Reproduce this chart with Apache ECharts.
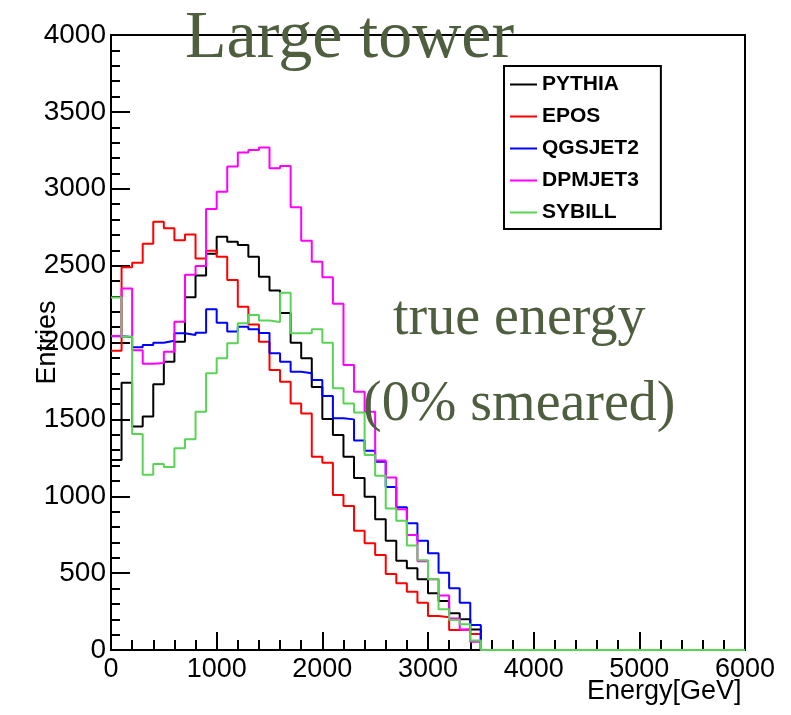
<!DOCTYPE html>
<html>
<head>
<meta charset="utf-8">
<script src="https://cdn.jsdelivr.net/npm/echarts@6/dist/echarts.min.js"></script>
<style>
html,body{margin:0;padding:0;background:#fff;}
#chart{width:791px;height:715px;}
</style>
</head>
<body>
<div id="chart"></div>
<script>
// Bin width 100 GeV, bins from 0 to 6000 GeV (60 bins)
var binWidth = 100;
var seriesNames = ['PYTHIA', 'EPOS', 'QGSJET2', 'DPMJET3', 'SYBILL'];
var seriesColors = ['#000000', '#ff0000', '#0000ff', '#ff00ff', '#59d454'];

var pythia = [1236,1739,1453,1518,1728,1875,2005,2295,2435,2578,
              2688,2656,2634,2558,2428,2339,2192,1999,1897,1710,
              1503,1398,1257,1119,997,850,710,581,531,460,
              369,319,239,200,134,0,0,0,0,0,
              0,0,0,0,0,0,0,0,0,0,
              0,0,0,0,0,0,0,0,0,0];
var epos = [1947,2490,2519,2643,2786,2743,2665,2702,2547,2597,
            2558,2407,2233,2117,2005,1821,1745,1604,1539,1257,
            1218,1008,937,776,694,618,494,434,379,308,
            221,213,130,134,104,0,0,0,0,0,
            0,0,0,0,0,0,0,0,0,0,
            0,0,0,0,0,0,0,0,0,0];
var qgsjet2 = [2040,2035,1969,1984,1999,2012,2060,2049,2064,2217,
               2129,2071,2103,2086,2062,1930,1875,1810,1800,1756,
               1652,1507,1500,1363,1296,1225,1060,928,824,711,
               629,503,401,308,163,0,0,0,0,0,
               0,0,0,0,0,0,0,0,0,0,
               0,0,0,0,0,0,0,0,0,0];
var dpmjet3 = [2042,2352,1949,1862,1867,1940,2135,2441,2498,2868,
               2981,3144,3235,3252,3269,3133,3148,2879,2662,2526,
               2424,2252,1854,1680,1550,1233,1122,915,748,578,
               460,355,205,134,54,0,0,0,0,0,
               0,0,0,0,0,0,0,0,0,0,
               0,0,0,0,0,0,0,0,0,0];
var sybill = [2292,2038,1405,1140,1210,1190,1312,1370,1550,1800,
              1897,1995,2125,2179,2143,2133,2324,2060,2060,2086,
              1999,1702,1604,1544,1268,1134,921,840,680,583,
              460,265,195,168,62,0,0,0,0,0,
              0,0,0,0,0,0,0,0,0,0,
              0,0,0,0,0,0,0,0,0,0];
var allValues = [pythia, epos, qgsjet2, dpmjet3, sybill];

var xTicks = [0, 1000, 2000, 3000, 4000, 5000, 6000];
var yTicks = [0, 500, 1000, 1500, 2000, 2500, 3000, 3500, 4000];

function histPoints(vals) {
  var pts = [];
  for (var i = 0; i < vals.length; i++) {
    pts.push([i * binWidth, vals[i]]);
  }
  pts.push([vals.length * binWidth, vals[vals.length - 1]]);
  return pts;
}

var FONT = "'Liberation Sans', Arial, Helvetica, sans-serif";
var SERIF = "'Liberation Serif', 'Times New Roman', serif";
var titleColor = '#4f5e3f';

var series = seriesNames.map(function (name, k) {
  return {
    name: name,
    type: 'line',
    step: 'end',
    symbol: 'none',
    data: histPoints(allValues[k]),
    lineStyle: { color: seriesColors[k], width: 2 },
    itemStyle: { color: seriesColors[k] },
    z: 2 + k
  };
});

function plain(v) { return String(v); }

var chart = echarts.init(document.getElementById('chart'), null, { renderer: 'canvas' });
chart.setOption({
  animation: false,
  backgroundColor: '#ffffff',
  title: [
    { text: 'Large tower', left: 180, top: 0, textStyle: { fontFamily: SERIF, fontSize: 68, fontWeight: 'normal', color: titleColor } },
    { text: 'true energy', left: 388, top: 286, textStyle: { fontFamily: SERIF, fontSize: 56, fontWeight: 'normal', color: titleColor } },
    { text: '(0% smeared)', left: 358, top: 372, textStyle: { fontFamily: SERIF, fontSize: 56, fontWeight: 'normal', color: titleColor } }
  ],
  legend: {
    data: seriesNames,
    orient: 'vertical',
    left: 504,
    top: 66,
    padding: [8, 22, 6, 6],
    itemGap: 11,
    itemWidth: 27,
    itemHeight: 2,
    icon: 'rect',
    selectedMode: false,
    backgroundColor: '#ffffff',
    borderColor: '#000000',
    borderWidth: 2,
    textStyle: { fontFamily: FONT, fontSize: 21, fontWeight: 'bold', color: '#000000' }
  },
  grid: {
    left: 111, right: 46, top: 35, bottom: 65,
    containLabel: false,
    outerBoundsMode: 'none',
    show: true, borderColor: '#000000', borderWidth: 2, backgroundColor: 'transparent'
  },
  xAxis: {
    type: 'value',
    min: xTicks[0],
    max: xTicks[xTicks.length - 1],
    interval: xTicks[1] - xTicks[0],
    name: 'Energy[GeV]',
    nameLocation: 'end',
    nameGap: -158,
    nameMoveOverlap: false,
    nameTextStyle: { fontFamily: FONT, fontSize: 27, color: '#000', align: 'left', verticalAlign: 'top', padding: [28, 0, 0, 0] },
    axisLine: { show: true, onZero: false, lineStyle: { color: '#000', width: 2 } },
    axisTick: { show: true, inside: true, length: 18, lineStyle: { color: '#000', width: 2 } },
    minorTick: { show: true, splitNumber: 5, length: 10, lineStyle: { color: '#000', width: 2 } },
    splitLine: { show: false },
    axisLabel: { fontFamily: FONT, fontSize: 27, color: '#000', margin: 6, showMinLabel: true, showMaxLabel: true, formatter: plain }
  },
  yAxis: {
    type: 'value',
    min: yTicks[0],
    max: yTicks[yTicks.length - 1],
    interval: yTicks[1] - yTicks[0],
    name: 'Entries',
    nameLocation: 'middle',
    nameGap: 50,
    nameRotate: 90,
    nameMoveOverlap: false,
    nameTextStyle: { fontFamily: FONT, fontSize: 27, color: '#000' },
    axisLine: { show: true, onZero: false, lineStyle: { color: '#000', width: 2 } },
    axisTick: { show: true, inside: true, length: 19, lineStyle: { color: '#000', width: 2 } },
    minorTick: { show: true, splitNumber: 5, length: 9, lineStyle: { color: '#000', width: 2 } },
    splitLine: { show: false },
    axisLabel: { fontFamily: FONT, fontSize: 28, color: '#000', margin: 5, showMinLabel: true, showMaxLabel: true, formatter: plain }
  },
  series: series
});
</script>
</body>
</html>
